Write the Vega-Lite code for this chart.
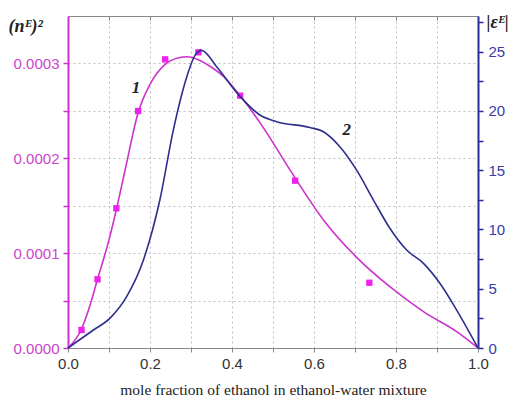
{
  "$schema": "https://vega.github.io/schema/vega-lite/v6.json",
  "autosize": "none",
  "width": 410,
  "height": 332,
  "padding": {"left": 68, "top": 16, "right": 43, "bottom": 53},
  "background": "white",
  "config": {"view": {"stroke": null}},
  "datasets": {
    "curve1": [
      {"x": 0, "y": 0}, {"x": 0.033, "y": 0.00002}, {"x": 0.05, "y": 0.00004}, {"x": 0.072, "y": 0.0000724},
      {"x": 0.1, "y": 0.000114}, {"x": 0.118, "y": 0.000146}, {"x": 0.14, "y": 0.000189}, {"x": 0.171, "y": 0.000248},
      {"x": 0.2, "y": 0.000278}, {"x": 0.237, "y": 0.000299}, {"x": 0.27, "y": 0.000306}, {"x": 0.29, "y": 0.000307},
      {"x": 0.318, "y": 0.000304}, {"x": 0.35, "y": 0.000296}, {"x": 0.38, "y": 0.000286}, {"x": 0.42, "y": 0.000266},
      {"x": 0.48, "y": 0.00023}, {"x": 0.541, "y": 0.000188}, {"x": 0.623, "y": 0.000135}, {"x": 0.704, "y": 0.0000956},
      {"x": 0.785, "y": 0.0000646}, {"x": 0.867, "y": 0.0000383}, {"x": 0.948, "y": 0.0000172}, {"x": 1.0, "y": 0}
    ],
    "pts1": [
      {"x": 0.033, "y": 0.000019}, {"x": 0.072, "y": 0.0000724}, {"x": 0.118, "y": 0.0001473}, {"x": 0.171, "y": 0.0002498},
      {"x": 0.237, "y": 0.0003043}, {"x": 0.318, "y": 0.0003117}, {"x": 0.42, "y": 0.000266}, {"x": 0.554, "y": 0.0001764},
      {"x": 0.735, "y": 0.0000688}
    ],
    "curve2": [
      {"x": 0, "y": 0}, {"x": 0.062, "y": 1.52}, {"x": 0.102, "y": 2.5}, {"x": 0.143, "y": 4.33}, {"x": 0.184, "y": 7.42},
      {"x": 0.224, "y": 12.48}, {"x": 0.257, "y": 18.4}, {"x": 0.29, "y": 22.9}, {"x": 0.31, "y": 24.7}, {"x": 0.326, "y": 25.1},
      {"x": 0.363, "y": 23.7}, {"x": 0.42, "y": 21.2}, {"x": 0.468, "y": 19.65}, {"x": 0.509, "y": 19.09}, {"x": 0.59, "y": 18.6},
      {"x": 0.623, "y": 18.24}, {"x": 0.663, "y": 16.98}, {"x": 0.704, "y": 15.0}, {"x": 0.745, "y": 12.48}, {"x": 0.785, "y": 10.1},
      {"x": 0.826, "y": 8.26}, {"x": 0.867, "y": 7.14}, {"x": 0.907, "y": 5.46}, {"x": 0.948, "y": 3.2}, {"x": 1.0, "y": 0}
    ],
    "lab1": [{"x": 0.166, "y": 0.000274, "t": "1"}],
    "lab2": [{"x": 0.68, "y": 18.4, "t": "2"}]
  },
  "layer": [
    {
      "encoding": {
        "x": {
          "field": "x", "type": "quantitative",
          "scale": {"domain": [0, 1], "nice": false},
          "axis": {
            "title": "mole fraction of ethanol in ethanol-water mixture",
            "titleFont": "Liberation Serif", "titleFontSize": 15.5, "titleFontWeight": "normal", "titleColor": "#222",
            "titlePadding": 11,
            "values": [0, 0.1, 0.2, 0.3, 0.4, 0.5, 0.6, 0.7, 0.8, 0.9, 1.0],
            "labelExpr": "(round(datum.value*10) % 2 == 0) ? format(datum.value, '.1f') : ''",
            "labelFlush": false, "labelOverlap": false,
            "labelFont": "Liberation Sans", "labelFontSize": 15, "labelColor": "#333", "labelPadding": 4,
            "domainColor": "#888", "domainWidth": 1.2, "tickColor": "#888", "tickSize": 4,
            "grid": true, "gridDash": [2, 3], "gridColor": "#c0c0c0"
          }
        },
        "y": {
          "field": "y", "type": "quantitative",
          "scale": {"domain": [0, 0.00035], "nice": false},
          "axis": {
            "title": "(nᴱ)²",
            "titleFont": "Liberation Serif", "titleFontSize": 18, "titleFontStyle": "italic", "titleFontWeight": "bold", "titleColor": "#222",
            "titleAngle": 0, "titleAlign": "left", "titleBaseline": "middle", "titleX": -60, "titleY": 10,
            "values": [0, 0.00005, 0.0001, 0.00015, 0.0002, 0.00025, 0.0003],
            "labelExpr": "(round(datum.value*20000) % 2 == 0) ? format(datum.value, '.4f') : ''",
            "labelFlush": false, "labelOverlap": false,
            "labelFont": "Liberation Sans", "labelFontSize": 15, "labelColor": "#cc44cc", "labelPadding": 4,
            "domainColor": "#cc33cc", "domainWidth": 2, "tickColor": "#cc33cc", "tickSize": 5, "tickWidth": 1.5,
            "grid": true, "gridDash": [2, 3], "gridColor": "#c0c0c0"
          }
        }
      },
      "layer": [
        {"data": {"name": "curve1"}, "mark": {"type": "line", "interpolate": "monotone", "color": "#cc33cc", "strokeWidth": 1.6}},
        {"data": {"name": "pts1"}, "mark": {"type": "square", "filled": true, "color": "#ee22ee", "size": 40, "opacity": 1}},
        {"data": {"name": "lab1"}, "mark": {"type": "text", "font": "Liberation Serif", "fontSize": 17, "fontStyle": "italic", "fontWeight": "bold", "color": "#222"}, "encoding": {"text": {"field": "t"}}}
      ]
    },
    {
      "encoding": {
        "x": {
          "field": "x", "type": "quantitative",
          "axis": {
            "orient": "top", "title": null, "labels": false,
            "values": [0.1, 0.2, 0.3, 0.4, 0.5, 0.6, 0.7, 0.8, 0.9],
            "domainColor": "#888", "domainWidth": 1.2, "tickColor": "#888", "tickSize": -4, "grid": false
          }
        },
        "y": {
          "field": "y", "type": "quantitative",
          "scale": {"domain": [0, 28], "nice": false},
          "axis": {
            "orient": "right",
            "title": "|εᴱ|",
            "titleFont": "Liberation Serif", "titleFontSize": 18, "titleFontStyle": "italic", "titleFontWeight": "bold", "titleColor": "#222",
            "titleAngle": 0, "titleAlign": "left", "titleBaseline": "middle", "titleX": 8, "titleY": 6,
            "values": [0, 2.5, 5, 7.5, 10, 12.5, 15, 17.5, 20, 22.5, 25, 27.5],
            "labelExpr": "(datum.value % 5 == 0) ? format(datum.value, 'd') : ''",
            "labelFlush": false, "labelOverlap": false,
            "labelFont": "Liberation Sans", "labelFontSize": 15, "labelColor": "#3a3aa8", "labelPadding": 5,
            "domainColor": "#2a2a9a", "domainWidth": 2, "tickColor": "#2a2a9a", "tickSize": 5, "tickWidth": 1.5,
            "grid": false
          }
        }
      },
      "layer": [
        {"data": {"name": "curve2"}, "mark": {"type": "line", "interpolate": "monotone", "color": "#2e2e8e", "strokeWidth": 1.6}},
        {"data": {"name": "lab2"}, "mark": {"type": "text", "font": "Liberation Serif", "fontSize": 17, "fontStyle": "italic", "fontWeight": "bold", "color": "#222"}, "encoding": {"text": {"field": "t"}}}
      ]
    }
  ],
  "resolve": {"scale": {"y": "independent"}, "axis": {"x": "independent"}}
}
